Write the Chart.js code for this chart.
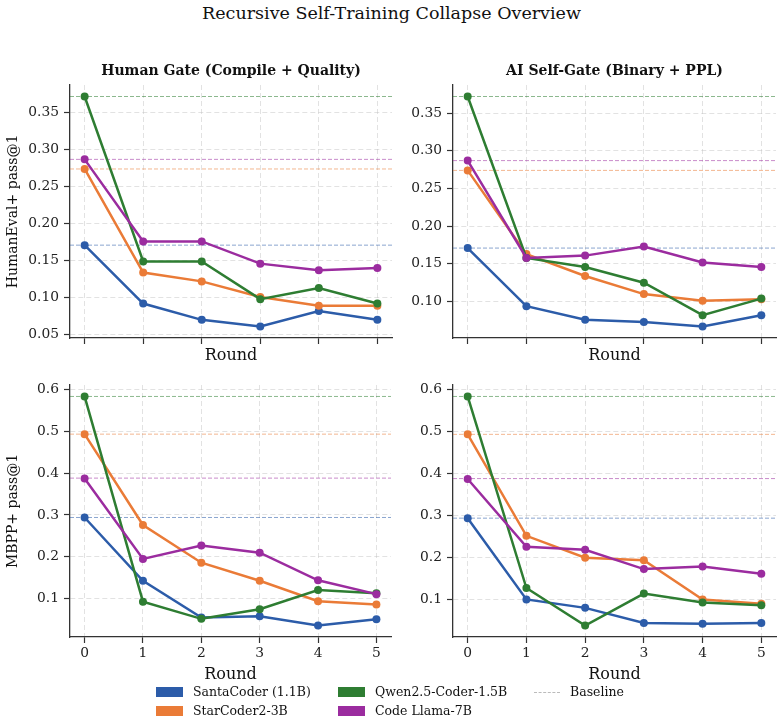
<!DOCTYPE html>
<html>
<head>
<meta charset="utf-8">
<script src="https://cdn.jsdelivr.net/npm/chart.js@4.4.0/dist/chart.umd.min.js"></script>
<style>
  body { margin: 0; background: #fff; }
  #wrap { position: relative; width: 783px; height: 723px; background: #fff; font-family: "DejaVu Serif", serif; color: #111; }
  #wrap canvas { position: absolute; left: 0; top: 0; }
  #suptitle { position: absolute; left: 0; width: 783px; top: 3px; text-align: center; font-size: 17.5px; line-height: 21px; }
  .lg { position: absolute; font-size: 12.5px; line-height: 14px; white-space: nowrap; }
  .sw { position: absolute; width: 27px; height: 10px; }
  .dash { position: absolute; width: 26px; height: 0; border-top: 1px dashed #bbb; }
</style>
</head>
<body>
<div id="wrap">
  <div id="suptitle">Recursive Self-Training Collapse Overview</div>
  <canvas id="c1" width="783" height="723"></canvas>
  <canvas id="c2" width="783" height="723"></canvas>
  <canvas id="c3" width="783" height="723"></canvas>
  <canvas id="c4" width="783" height="723"></canvas>
  <div id="legend"></div>
</div>
<script>
const W = 783, H = 723;

const rounds = [0, 1, 2, 3, 4, 5];
const models = ['SantaCoder (1.1B)', 'StarCoder2-3B', 'Qwen2.5-Coder-1.5B', 'Code Llama-7B'];
const colors = ['#2c5ca9', '#ea7b37', '#2e7d32', '#9b2c9f'];

// HumanEval+ pass@1, human gate
const heHumanSanta = [0.171, 0.092, 0.070, 0.061, 0.082, 0.070];
const heHumanStar  = [0.274, 0.134, 0.122, 0.101, 0.089, 0.089];
const heHumanQwen  = [0.372, 0.149, 0.149, 0.098, 0.113, 0.092];
const heHumanLlama = [0.287, 0.176, 0.176, 0.146, 0.137, 0.140];

// HumanEval+ pass@1, AI self-gate
const heAiSanta = [0.171, 0.094, 0.076, 0.073, 0.067, 0.082];
const heAiStar  = [0.274, 0.163, 0.134, 0.110, 0.101, 0.103];
const heAiQwen  = [0.372, 0.158, 0.146, 0.125, 0.082, 0.104];
const heAiLlama = [0.287, 0.158, 0.161, 0.173, 0.152, 0.146];

// MBPP+ pass@1, human gate
const mbHumanSanta = [0.294, 0.143, 0.055, 0.058, 0.036, 0.051];
const mbHumanStar  = [0.493, 0.276, 0.186, 0.143, 0.094, 0.086];
const mbHumanQwen  = [0.583, 0.093, 0.052, 0.075, 0.121, 0.113];
const mbHumanLlama = [0.387, 0.195, 0.227, 0.210, 0.144, 0.111];

// MBPP+ pass@1, AI self-gate
const mbAiSanta = [0.294, 0.101, 0.081, 0.045, 0.043, 0.045];
const mbAiStar  = [0.493, 0.252, 0.200, 0.194, 0.101, 0.091];
const mbAiQwen  = [0.583, 0.128, 0.039, 0.115, 0.094, 0.087];
const mbAiLlama = [0.387, 0.226, 0.219, 0.173, 0.179, 0.162];

// baseline (round 0) per model
const heBaseline = [0.171, 0.274, 0.372, 0.287];
const mbBaseline = [0.294, 0.493, 0.583, 0.388];

const FONT = "'DejaVu Serif', serif";
const xMin = -0.25, xMax = 5.25;

function fade(hex, a) {
  const n = parseInt(hex.slice(1), 16);
  return `rgba(${n >> 16},${(n >> 8) & 255},${n & 255},${a})`;
}

function makePanel(id, box, title, yLabel, showX, series, baseline, step, digits) {
  const all = series.flat().concat(baseline);
  const lo = Math.min(...all), hi = Math.max(...all);
  const yMin = lo - (hi - lo) * 0.05, yMax = hi + (hi - lo) * 0.05;
  const yTicks = [];
  for (let v = Math.ceil(yMin / step - 1e-9) * step; v <= yMax + 1e-9; v += step) yTicks.push(+v.toFixed(3));

  const datasets = [];
  series.forEach((s, i) => {
    datasets.push({
      data: s.map((v, k) => ({ x: rounds[k], y: v })),
      borderColor: colors[i], backgroundColor: colors[i],
      borderWidth: 2.5, pointRadius: 4, pointHoverRadius: 4,
      pointBorderWidth: 0, order: 3 - i
    });
  });
  baseline.forEach((b, i) => {
    datasets.push({
      data: [{ x: xMin, y: b }, { x: xMax, y: b }],
      borderColor: fade(colors[i], 0.55), borderWidth: 1,
      borderDash: [4, 2], pointRadius: 0, order: 10
    });
  });

  const titleH = title ? 16.8 + 5.5 : 0;
  const yW = 70, xH = showX ? 50 : 30;

  new Chart(document.getElementById(id), {
    type: 'line',
    data: { datasets },
    options: {
      responsive: false, animation: false,
      layout: { padding: { left: box.l - yW, top: box.t - titleH, right: W - box.r, bottom: H - box.b - xH } },
      plugins: {
        legend: { display: false }, tooltip: { enabled: false },
        title: {
          display: !!title, text: title, color: '#111', fullSize: false,
          font: { family: FONT, size: 14, weight: 'bold', lineHeight: 1.2 },
          padding: { top: 0, bottom: 5.5 }
        }
      },
      scales: {
        x: {
          type: 'linear', min: xMin, max: xMax,
          afterBuildTicks: ax => { ax.ticks = rounds.map(v => ({ value: v })); },
          afterFit: ax => { ax.height = xH; },
          grid: { color: 'rgba(190,190,190,0.45)', tickColor: '#333', tickLength: 6, tickWidth: 1.2, tickBorderDash: [] },
          border: { color: '#333', width: 1.3, dash: [5, 3] },
          ticks: { display: showX, color: '#222', padding: 2, font: { family: FONT, size: 13.8 } },
          title: { display: true, text: 'Round', color: '#111', padding: { top: 0, bottom: 3 }, font: { family: FONT, size: 16, lineHeight: 1.2 } }
        },
        y: {
          type: 'linear', min: yMin, max: yMax,
          afterBuildTicks: ax => { ax.ticks = yTicks.map(v => ({ value: v })); },
          afterFit: ax => { ax.width = yW; },
          grid: { color: 'rgba(190,190,190,0.45)', tickColor: '#333', tickLength: 6, tickWidth: 1.2, tickBorderDash: [] },
          border: { color: '#333', width: 1.3, dash: [5, 3] },
          ticks: { color: '#222', padding: 5, font: { family: FONT, size: 13.8 }, callback: v => v.toFixed(digits) },
          title: { display: !!yLabel, text: yLabel, color: '#111', padding: { top: 5, bottom: 0 }, font: { family: FONT, size: 14, lineHeight: 1.2 } }
        }
      }
    }
  });
}

makePanel('c1', { l: 70, t: 85, r: 392, b: 338 }, 'Human Gate (Compile + Quality)', 'HumanEval+ pass@1', false,
  [heHumanSanta, heHumanStar, heHumanQwen, heHumanLlama], heBaseline, 0.05, 2);
makePanel('c2', { l: 453, t: 85, r: 776, b: 338 }, 'AI Self-Gate (Binary + PPL)', '', false,
  [heAiSanta, heAiStar, heAiQwen, heAiLlama], heBaseline, 0.05, 2);
makePanel('c3', { l: 70, t: 385, r: 391, b: 637 }, '', 'MBPP+ pass@1', true,
  [mbHumanSanta, mbHumanStar, mbHumanQwen, mbHumanLlama], mbBaseline, 0.1, 1);
makePanel('c4', { l: 453, t: 385, r: 776, b: 637 }, '', '', true,
  [mbAiSanta, mbAiStar, mbAiQwen, mbAiLlama], mbBaseline, 0.1, 1);

// legend: two rows, filled patches for models and a dashed sample for baseline
const legend = document.getElementById('legend');
const slots = [[156, 687], [156, 706], [338, 687], [338, 706]];
models.forEach((m, i) => {
  const [x, y] = slots[i];
  legend.insertAdjacentHTML('beforeend',
    `<div class="sw" style="left:${x}px;top:${y}px;background:${colors[i]}"></div>` +
    `<div class="lg" style="left:${x + 37}px;top:${y - 2}px">${m}</div>`);
});
legend.insertAdjacentHTML('beforeend',
  `<div class="dash" style="left:534px;top:692px"></div><div class="lg" style="left:570px;top:685px">Baseline</div>`);
</script>
</body>
</html>
